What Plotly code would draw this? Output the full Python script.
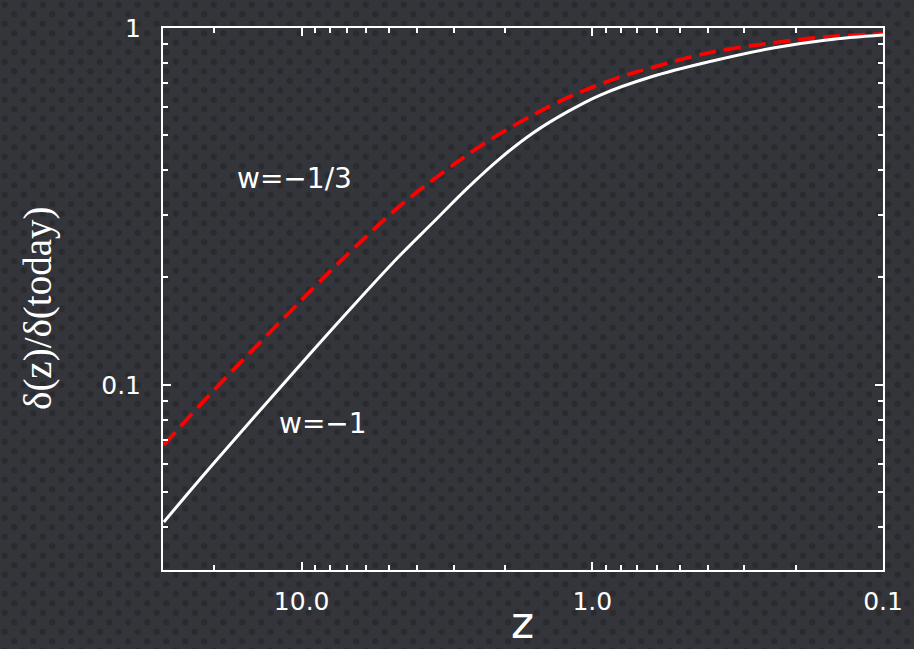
import math
import base64
import plotly.graph_objects as go

# ---- data ----
z_w13 = [29.8, 20.0, 10.0, 7.0, 4.64, 3.25, 2.37, 1.67, 1.16, 0.80, 0.63, 0.40, 0.239, 0.156, 0.10]
d_w13 = [0.0679, 0.0968, 0.173, 0.231, 0.315, 0.395, 0.473, 0.560, 0.649, 0.729, 0.773, 0.851, 0.908, 0.944, 0.962]

z_w1 = [29.8, 20.0, 10.0, 7.0, 4.64, 3.52, 2.69, 2.07, 1.60, 1.22, 0.939, 0.63, 0.40, 0.239, 0.156, 0.10]
d_w1 = [0.0413, 0.0605, 0.115, 0.159, 0.2285, 0.286, 0.356, 0.432, 0.508, 0.582, 0.649, 0.729, 0.803, 0.879, 0.926, 0.956]

x_tickvals = [10.0, 1.0, 0.1]
x_ticktext = ["10.0", "1.0", "0.1"]
y_tickvals = [0.1, 1.0]
y_ticktext = ["0.1", "1"]
x_minor = [20, 9, 8, 7, 6, 5, 4, 3, 2, 0.9, 0.8, 0.7, 0.6, 0.5, 0.4, 0.3, 0.2]
y_minor = [0.9, 0.8, 0.7, 0.6, 0.5, 0.4, 0.3, 0.2, 0.09, 0.08, 0.07, 0.06, 0.05, 0.04]

W, H = 914, 649
L, R, T, B = 163, 31, 28, 79
pw, ph = W - L - R, H - T - B

# background texture (dotted dark pattern)
svg = f'''<svg xmlns="http://www.w3.org/2000/svg" width="{W}" height="{H}">
<defs><pattern id="p" width="19" height="19" patternUnits="userSpaceOnUse">
<rect width="19" height="19" fill="#33353a"/>
<circle cx="4.75" cy="4.75" r="3.2" fill="#292b2f"/>
<circle cx="14.25" cy="14.25" r="3.2" fill="#292b2f"/>
</pattern></defs>
<rect width="{W}" height="{H}" fill="url(#p)"/>
</svg>'''
src = "data:image/svg+xml;base64," + base64.b64encode(svg.encode()).decode()

fig = go.Figure()
fig.add_trace(go.Scatter(x=z_w13, y=d_w13, mode="lines", line=dict(color="#ff0000", width=3.8, dash="17px,8px", shape="spline"), showlegend=False))
fig.add_trace(go.Scatter(x=z_w1, y=d_w1, mode="lines", line=dict(color="#ffffff", width=3, shape="spline"), showlegend=False))

axis_common = dict(
    showline=True, linecolor="white", linewidth=2, mirror="ticks",
    ticks="inside", ticklen=8, tickwidth=1.5, tickcolor="white",
    showgrid=False, zeroline=False,
    tickfont=dict(family="DejaVu Sans", size=25, color="white"),
)

fig.update_xaxes(
    type="log", range=[math.log10(30.0), -1],
    tickmode="array", tickvals=x_tickvals, ticktext=x_ticktext,
    minor=dict(tickmode="array", tickvals=x_minor, ticks="inside", ticklen=5, tickwidth=1.5, tickcolor="white", showgrid=False),
    ticklabelstandoff=8,
    **axis_common,
)
fig.update_yaxes(
    type="log", range=[math.log10(0.0303), 0],
    tickmode="array", tickvals=y_tickvals, ticktext=y_ticktext,
    minor=dict(tickmode="array", tickvals=y_minor, ticks="inside", ticklen=5, tickwidth=1.5, tickcolor="white", showgrid=False),
    ticklabelstandoff=15,
    **axis_common,
)

fig.add_annotation(xref="paper", yref="paper", x=(294 - L) / pw, y=1 - (178 - T) / ph,
                   text="w=\u22121/3", showarrow=False, xanchor="center", yanchor="middle",
                   font=dict(family="DejaVu Sans", size=28, color="white"))
fig.add_annotation(xref="paper", yref="paper", x=(323 - L) / pw, y=1 - (423 - T) / ph,
                   text="w=\u22121", showarrow=False, xanchor="center", yanchor="middle",
                   font=dict(family="DejaVu Sans", size=28, color="white"))
fig.add_annotation(xref="paper", yref="paper", x=(522 - L) / pw, y=1 - (622 - T) / ph,
                   text="z", showarrow=False, xanchor="center", yanchor="middle",
                   font=dict(family="DejaVu Sans", size=44, color="white"))
fig.add_annotation(xref="paper", yref="paper", x=(38 - L) / pw, y=1 - (308 - T) / ph,
                   text="\u03b4(z)/\u03b4(today)", showarrow=False, textangle=-90,
                   xanchor="center", yanchor="middle",
                   font=dict(family="Liberation Serif", size=39, color="white"))

fig.add_layout_image(dict(source=src, xref="paper", yref="paper",
                          x=-L / pw, y=1 + T / ph, sizex=W / pw, sizey=H / ph,
                          xanchor="left", yanchor="top", sizing="stretch", layer="below"))

fig.update_layout(
    width=W, height=H,
    margin=dict(l=L, r=R, t=T, b=B),
    paper_bgcolor="#303237", plot_bgcolor="rgba(0,0,0,0)",
)

fig.write_html("out.html")
